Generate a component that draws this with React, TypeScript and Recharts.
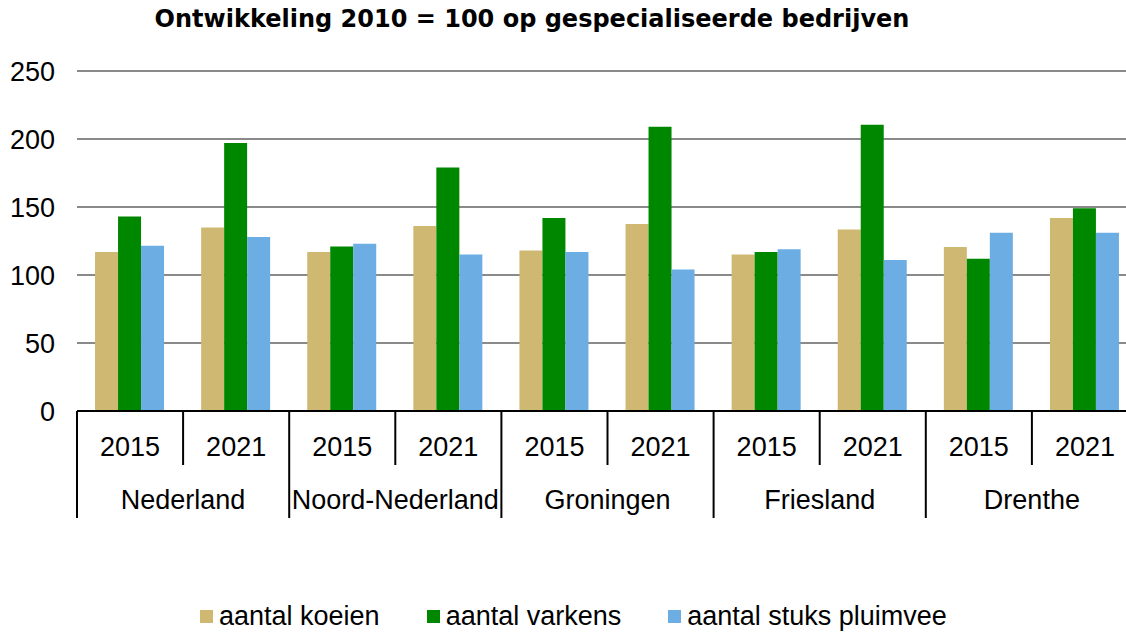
import React from 'react'
import { BarChart, Bar, XAxis, YAxis, CartesianGrid } from 'recharts'

const regions = ['Nederland', 'Noord-Nederland', 'Groningen', 'Friesland', 'Drenthe']
const years = ['2015', '2021']
const koeien = [117, 135, 117, 136, 118, 137.5, 115, 133.5, 120.5, 142]
const varkens = [143, 197, 121, 179, 142, 209, 117, 210.5, 112, 149]
const pluimvee = [121.5, 128, 123, 115, 117, 104, 119, 111, 131, 131]
const yTicks = [0, 50, 100, 150, 200, 250]

const series = [
  { key: 'koeien', name: 'aantal koeien', color: '#CFB972' },
  { key: 'varkens', name: 'aantal varkens', color: '#008700' },
  { key: 'pluimvee', name: 'aantal stuks pluimvee', color: '#6CADE3' },
]

const data = regions.flatMap((region, r) =>
  years.map((year, y) => {
    const i = r * years.length + y
    return { region, year, koeien: koeien[i], varkens: varkens[i], pluimvee: pluimvee[i] }
  })
)

// the plot runs a little past the right edge of the picture, as in the original
const W = 1126
const H = 632
const CHART_W = 1140
const Y_AXIS_W = 77
const RIGHT = 2
const BAND = (CHART_W - Y_AXIS_W - RIGHT) / data.length
const FONT = '"Liberation Sans", Arial, sans-serif'

function YearTick(props: any) {
  const { x, y, payload, index } = props
  const first = index % years.length === 0
  const row = data[index]
  const left = x - BAND / 2
  return (
    <g>
      <line x1={left} x2={left} y1={y} y2={y + (first ? 107 : 54)} stroke="#000" strokeWidth={2} />
      <text x={x} y={y + 36} textAnchor="middle" dominantBaseline="central" fontSize={27} fill="#000" fontFamily={FONT}>
        {payload.value}
      </text>
      {first && (
        <text x={x + BAND / 2} y={y + 89} textAnchor="middle" dominantBaseline="central" fontSize={27} fill="#000" fontFamily={FONT}>
          {row ? row.region : ''}
        </text>
      )}
    </g>
  )
}

export default function App() {
  return (
    <div style={{ position: 'absolute', left: 0, top: 0, width: W, height: H, overflow: 'hidden', background: '#fff', fontFamily: FONT }}>
      <div
        style={{
          position: 'absolute',
          left: 0,
          width: 1064,
          top: 5,
          textAlign: 'center',
          fontFamily: '"DejaVu Sans", Verdana, sans-serif',
          fontWeight: 'bold',
          fontSize: 24,
          color: '#000',
        }}
      >
        Ontwikkeling 2010 = 100 op gespecialiseerde bedrijven
      </div>
      <BarChart
        width={CHART_W}
        height={H}
        data={data}
        margin={{ top: 71, right: RIGHT, left: 0, bottom: 0 }}
        barCategoryGap="17%"
        barGap={0}
      >
        <CartesianGrid vertical={false} stroke="#8a8a8a" strokeWidth={2} />
        <YAxis
          width={Y_AXIS_W}
          domain={[0, 250]}
          ticks={yTicks}
          axisLine={false}
          tickLine={false}
          tickSize={0}
          tickMargin={22}
          tick={{ fill: '#000', fontSize: 27, fontFamily: FONT }}
          interval={0}
        />
        <XAxis
          dataKey="year"
          height={221}
          axisLine={{ stroke: '#000', strokeWidth: 2 }}
          tickLine={false}
          tickSize={0}
          tickMargin={0}
          interval={0}
          tick={<YearTick />}
        />
        {series.map((s) => (
          <Bar key={s.key} dataKey={s.key} name={s.name} fill={s.color} isAnimationActive={false} />
        ))}
      </BarChart>
      <div
        style={{
          position: 'absolute',
          left: 200,
          top: 601,
          display: 'flex',
          gap: 47,
          fontSize: 27,
          color: '#000',
        }}
      >
        {series.map((s) => (
          <div key={s.key} style={{ display: 'flex', alignItems: 'center' }}>
            <span style={{ display: 'inline-block', width: 13, height: 13, background: s.color, marginRight: 6 }} />
            <span>{s.name}</span>
          </div>
        ))}
      </div>
    </div>
  )
}
